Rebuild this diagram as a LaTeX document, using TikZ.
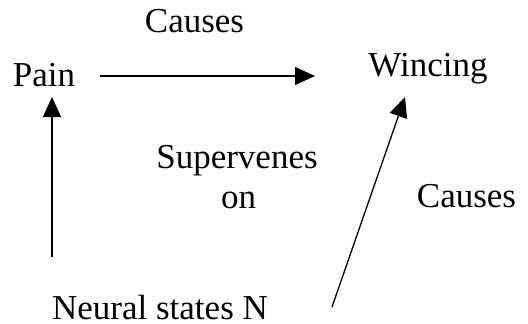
\documentclass[tikz,border=0pt]{standalone}
\usepackage{fontspec}
\setmainfont{Liberation Serif}
\usetikzlibrary{arrows.meta}
\tikzset{
  lbl/.style={font=\fontsize{35}{40}\selectfont, inner sep=0pt, anchor=base},
  arr/.style={line width=1.3pt, -{Triangle[length=20pt,width=18pt]}}
}
\begin{document}
\begin{tikzpicture}[x=1pt,y=-1pt]
\useasboundingbox (0,0) rectangle (528,324);
\node[lbl] (pain) at (44,86) {Pain};
\node[lbl] (wincing) at (428,76) {Wincing};
\node[lbl] (causes1) at (194.5,32) {Causes};
\node[lbl] (superv) at (237,168) {Supervenes};
\node[lbl] (on) at (238.5,208) {on};
\node[lbl] (causes2) at (466.5,207) {Causes};
\node[lbl] (neural) at (160,319) {Neural states N};
\coordinate (a1s) at (100,76);
\coordinate (a1e) at (315,76);
\coordinate (a2s) at (52,257);
\coordinate (a2e) at (52,97);
\coordinate (a3s) at (332,307);
\coordinate (a3e) at (405,97);
\draw[arr] (a1s) -- (a1e);
\draw[arr] (a2s) -- (a2e);
\draw[arr] (a3s) -- (a3e);
\end{tikzpicture}
\end{document}
